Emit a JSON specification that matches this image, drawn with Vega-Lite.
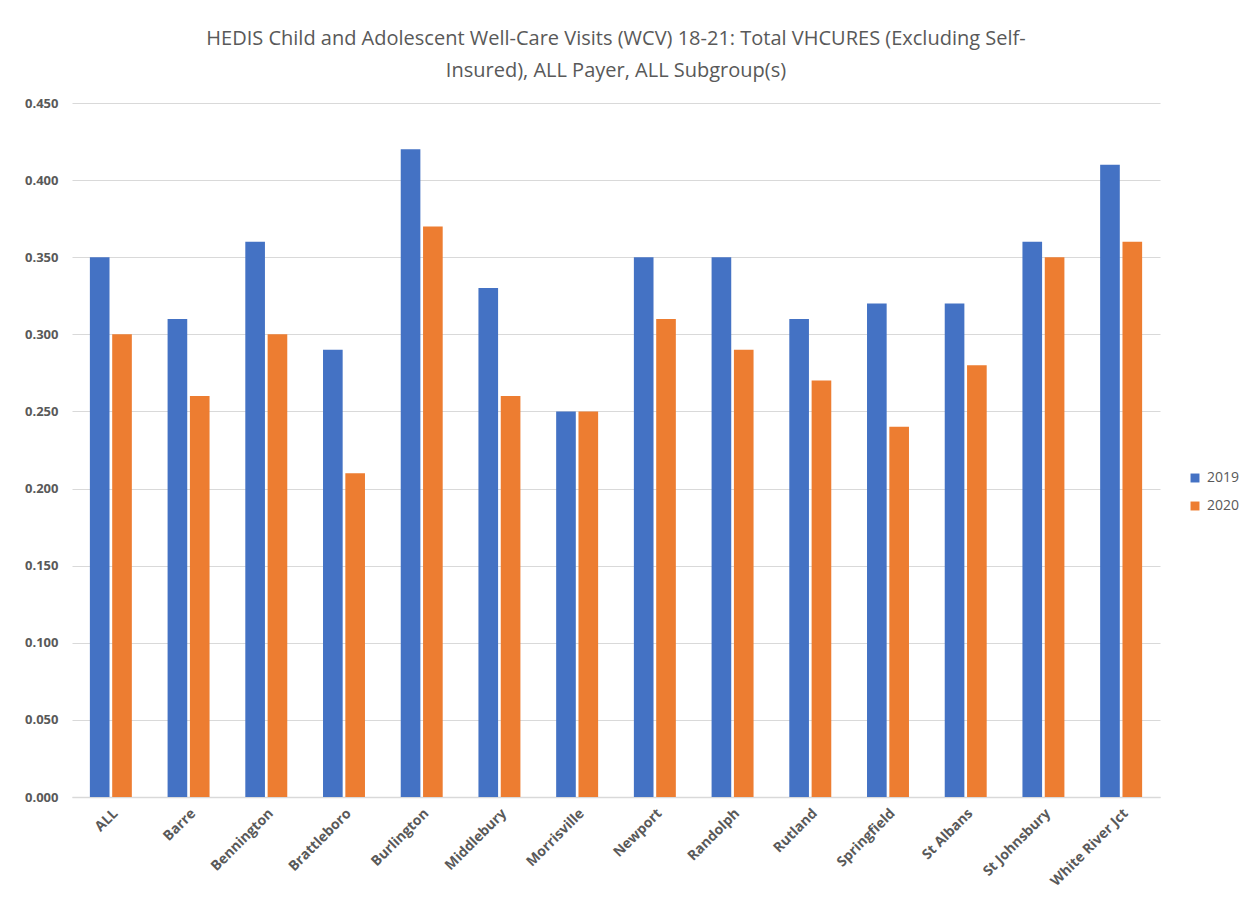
{
  "$schema": "https://vega.github.io/schema/vega-lite/v6.json",
  "width": 1088,
  "height": 694,
  "autosize": {"type": "none"},
  "padding": {"left": 72, "top": 103, "right": 91, "bottom": 103},
  "background": "white",
  "title": {
    "text": ["HEDIS Child and Adolescent Well-Care Visits (WCV) 18-21: Total VHCURES (Excluding Self-", "Insured), ALL Payer, ALL Subgroup(s)"],
    "font": "Open Sans",
    "fontSize": 20,
    "fontWeight": "normal",
    "color": "#595959",
    "lineHeight": 32,
    "anchor": "middle",
    "offset": 16
  },
  "data": {
    "values": [
      {"region": "ALL", "year": "2019", "value": 0.35},
      {"region": "ALL", "year": "2020", "value": 0.30},
      {"region": "Barre", "year": "2019", "value": 0.31},
      {"region": "Barre", "year": "2020", "value": 0.26},
      {"region": "Bennington", "year": "2019", "value": 0.36},
      {"region": "Bennington", "year": "2020", "value": 0.30},
      {"region": "Brattleboro", "year": "2019", "value": 0.29},
      {"region": "Brattleboro", "year": "2020", "value": 0.21},
      {"region": "Burlington", "year": "2019", "value": 0.42},
      {"region": "Burlington", "year": "2020", "value": 0.37},
      {"region": "Middlebury", "year": "2019", "value": 0.33},
      {"region": "Middlebury", "year": "2020", "value": 0.26},
      {"region": "Morrisville", "year": "2019", "value": 0.25},
      {"region": "Morrisville", "year": "2020", "value": 0.25},
      {"region": "Newport", "year": "2019", "value": 0.35},
      {"region": "Newport", "year": "2020", "value": 0.31},
      {"region": "Randolph", "year": "2019", "value": 0.35},
      {"region": "Randolph", "year": "2020", "value": 0.29},
      {"region": "Rutland", "year": "2019", "value": 0.31},
      {"region": "Rutland", "year": "2020", "value": 0.27},
      {"region": "Springfield", "year": "2019", "value": 0.32},
      {"region": "Springfield", "year": "2020", "value": 0.24},
      {"region": "St Albans", "year": "2019", "value": 0.32},
      {"region": "St Albans", "year": "2020", "value": 0.28},
      {"region": "St Johnsbury", "year": "2019", "value": 0.36},
      {"region": "St Johnsbury", "year": "2020", "value": 0.35},
      {"region": "White River Jct", "year": "2019", "value": 0.41},
      {"region": "White River Jct", "year": "2020", "value": 0.36}
    ]
  },
  "mark": {"type": "bar"},
  "encoding": {
    "x": {
      "field": "region",
      "type": "nominal",
      "sort": null,
      "title": null,
      "scale": {"paddingInner": 0.46, "paddingOuter": 0.23},
      "axis": {
        "labelAngle": -45,
        "labelFont": "Open Sans",
        "labelFontSize": 14,
        "labelFontWeight": "bold",
        "labelColor": "#595959",
        "labelPadding": 9,
        "ticks": false,
        "domainColor": "#d9d9d9",
        "domainWidth": 1.5
      }
    },
    "xOffset": {"field": "year", "type": "nominal", "scale": {"paddingInner": 0.12}},
    "y": {
      "field": "value",
      "type": "quantitative",
      "title": null,
      "scale": {"domain": [0, 0.45], "nice": false},
      "axis": {
        "values": [0, 0.05, 0.1, 0.15, 0.2, 0.25, 0.3, 0.35, 0.4, 0.45],
        "format": ".3f",
        "labelFont": "Open Sans",
        "labelFontSize": 13,
        "labelFontWeight": "bold",
        "labelColor": "#595959",
        "labelPadding": 14,
        "ticks": false,
        "domain": false,
        "gridColor": "#d9d9d9",
        "gridWidth": 1
      }
    },
    "color": {
      "field": "year",
      "type": "nominal",
      "title": null,
      "scale": {"domain": ["2019", "2020"], "range": ["#4472C4", "#ED7D31"]},
      "legend": {
        "orient": "none",
        "legendX": 1116,
        "legendY": 368,
        "symbolType": "square",
        "symbolSize": 80,
        "labelFont": "Open Sans",
        "labelFontSize": 14,
        "labelColor": "#595959",
        "rowPadding": 14,
        "labelOffset": 5
      }
    }
  },
  "config": {"view": {"stroke": null}}
}
